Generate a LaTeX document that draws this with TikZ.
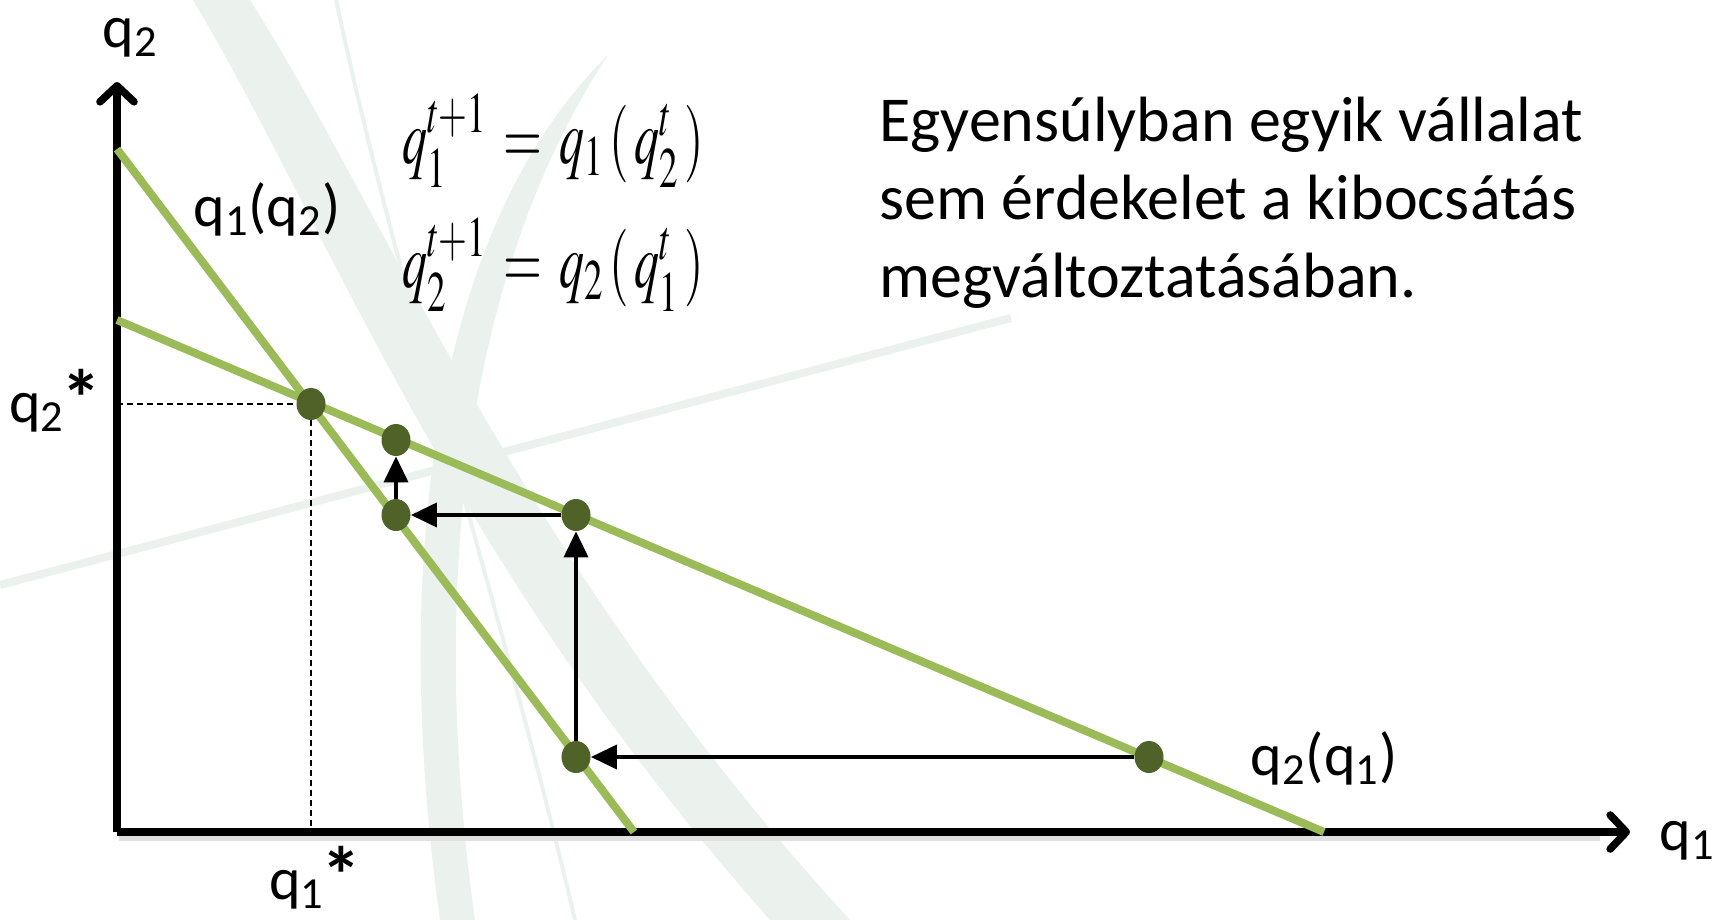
\documentclass[tikz,border=0pt]{standalone}
\usepackage{mathptmx}
\usepackage[no-math]{fontspec}
\setmainfont{Carlito}
\usetikzlibrary{arrows.meta,shapes.geometric}
\definecolor{respGreen}{HTML}{9BBB59}
\definecolor{dotGreen}{HTML}{4F6228}
\definecolor{markGreen}{HTML}{EBF2EE}
\newcommand{\eqstar}{\kern-1.5pt\raisebox{-2pt}{\fontsize{40}{40}\selectfont\bfseries *}}
\begin{document}
\begin{tikzpicture}[x=0.5pt, y=-0.5pt,
  resp/.style={draw=respGreen, line width=4pt},
  axis/.style={line width=3.8pt, -{Straight Barb[length=8pt, width=17pt, round]}},
  axisshade/.style={black!12, line width=3pt},
  move/.style={line width=1.9pt, -{Triangle[length=13pt, width=12pt]}},
  guide/.style={dash pattern=on 3pt off 2pt, line width=0.9pt},
  dot/.style={ellipse, fill=dotGreen, minimum width=14.5pt, minimum height=16pt, inner sep=0pt},
  lbl/.style={font=\fontsize{30}{36}\selectfont, inner sep=0pt},
  eqn/.style={font=\fontsize{25}{31}\selectfont, inner sep=0pt}]
\useasboundingbox (0,0) rectangle (1723,920);
% Watermark in the background
\begin{scope}[markGreen]
  \fill (193,0) .. controls (330,230) and (450,560) .. (770,920) -- (850,920) .. controls (520,560) and (390,220) .. (250,0) -- cycle;
  \fill (608,55) .. controls (420,240) and (395,600) .. (440,920) -- (475,920) .. controls (430,600) and (460,280) .. (608,55) -- cycle;
  \draw[line width=2pt] (336,0) .. controls (400,300) and (500,600) .. (575,920);
  \draw[line width=4pt] (0,585) -- (1011,318);
\end{scope}
% Axes
\coordinate (O) at (117,832);
\coordinate (ytip) at (117,82);
\coordinate (xtip) at (1630,832);
\draw[axisshade] (119,838) -- (1600,838);
\draw[axis] (O) -- (ytip);
\draw[axis] (O) -- (xtip);
% Reaction functions
\draw[resp] (117,149) -- (634,832);
\draw[resp] (117,320) -- (1324,832);
% Points of the adjustment
\node[dot] (E) at (311,404) {};
\node[dot] (A) at (396,440) {};
\node[dot] (B) at (396,515) {};
\node[dot] (C) at (576,515) {};
\node[dot] (D) at (576,757) {};
\node[dot] (F) at (1149,757) {};
% Equilibrium guides
\coordinate (Ey) at (117,404);
\coordinate (Ex) at (311,832);
\draw[guide] (Ey) -- (E);
\draw[guide] (E) -- (Ex);
% Adjustment steps
\draw[move] (F) -- (D);
\draw[move] (D) -- (C);
\draw[move] (C) -- (B);
\draw[move] (B) -- (A);
% Labels
\node[lbl] (q2lbl) at (130,38) {q\textsubscript{2}};
\node[lbl] (q1lbl) at (1687,841) {q\textsubscript{1}};
\node[lbl, anchor=base] (q2star) at (55,422) {q\textsubscript{2}\eqstar};
\node[lbl, anchor=base] (q1star) at (315,899) {q\textsubscript{1}\eqstar};
\node[lbl] (br1) at (267,209) {q\textsubscript{1}(q\textsubscript{2})};
\node[lbl] (br2) at (1324,758) {q\textsubscript{2}(q\textsubscript{1})};
\node[eqn] (eq1) at (553,141) {\scalebox{1}[1.55]{$q_1^{t+1}\,=\,q_1\,(\,q_2^t\,)$}};
\node[eqn] (eq2) at (553,265) {\scalebox{1}[1.55]{$q_2^{t+1}\,=\,q_2\,(\,q_1^t\,)$}};
\node[lbl, font=\fontsize{32}{39}\selectfont, align=left, anchor=west] (note) at (879,203)
  {Egyensúlyban egyik vállalat\\sem érdekelet a kibocsátás\\megváltoztatásában.};
\end{tikzpicture}
\end{document}
